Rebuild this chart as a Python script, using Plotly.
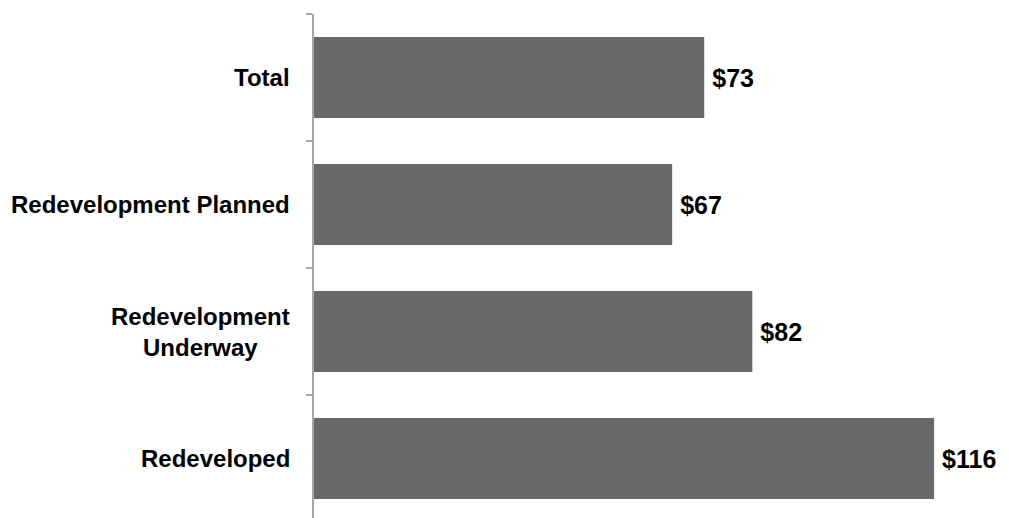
import plotly.graph_objects as go

categories = ["Redeveloped", "Redevelopment<br>Underway", "Redevelopment Planned", "Total"]
values = [116, 82, 67, 73]

FONT = "Liberation Sans"

fig = go.Figure()
fig.add_trace(go.Bar(
    y=categories, x=values, orientation="h",
    marker=dict(color="#696969", line=dict(width=0)),
    texttemplate="<b>\u2009$%{x}</b>", textposition="outside",
    textfont=dict(family=FONT, size=25, color="#000000"),
    cliponaxis=False, hoverinfo="skip",
))

for c in categories:
    fig.add_annotation(
        x=0, xref="paper", y=c, yref="y", text="<b>%s</b>" % c,
        xanchor="right", yanchor="middle", align="center", xshift=-22,
        showarrow=False, font=dict(family=FONT, size=24, color="#000000"),
    )

fig.update_layout(
    width=1010, height=518,
    margin=dict(l=314, r=0, t=14, b=0),
    plot_bgcolor="white", paper_bgcolor="white",
    bargap=0.362, showlegend=False,
)
fig.update_xaxes(visible=False, range=[0, 130.2])
fig.update_yaxes(
    type="category", categoryarray=categories, range=[-0.468, 3.5],
    showticklabels=False, showgrid=False, zeroline=False,
    showline=True, linecolor="#a6a6a6", linewidth=2,
    ticks="outside", tickson="boundaries", ticklen=6, tickcolor="#a6a6a6", tickwidth=2,
)

fig.write_html("out.html", config={"displayModeBar": False},
               post_script="document.body.style.margin='0';")
